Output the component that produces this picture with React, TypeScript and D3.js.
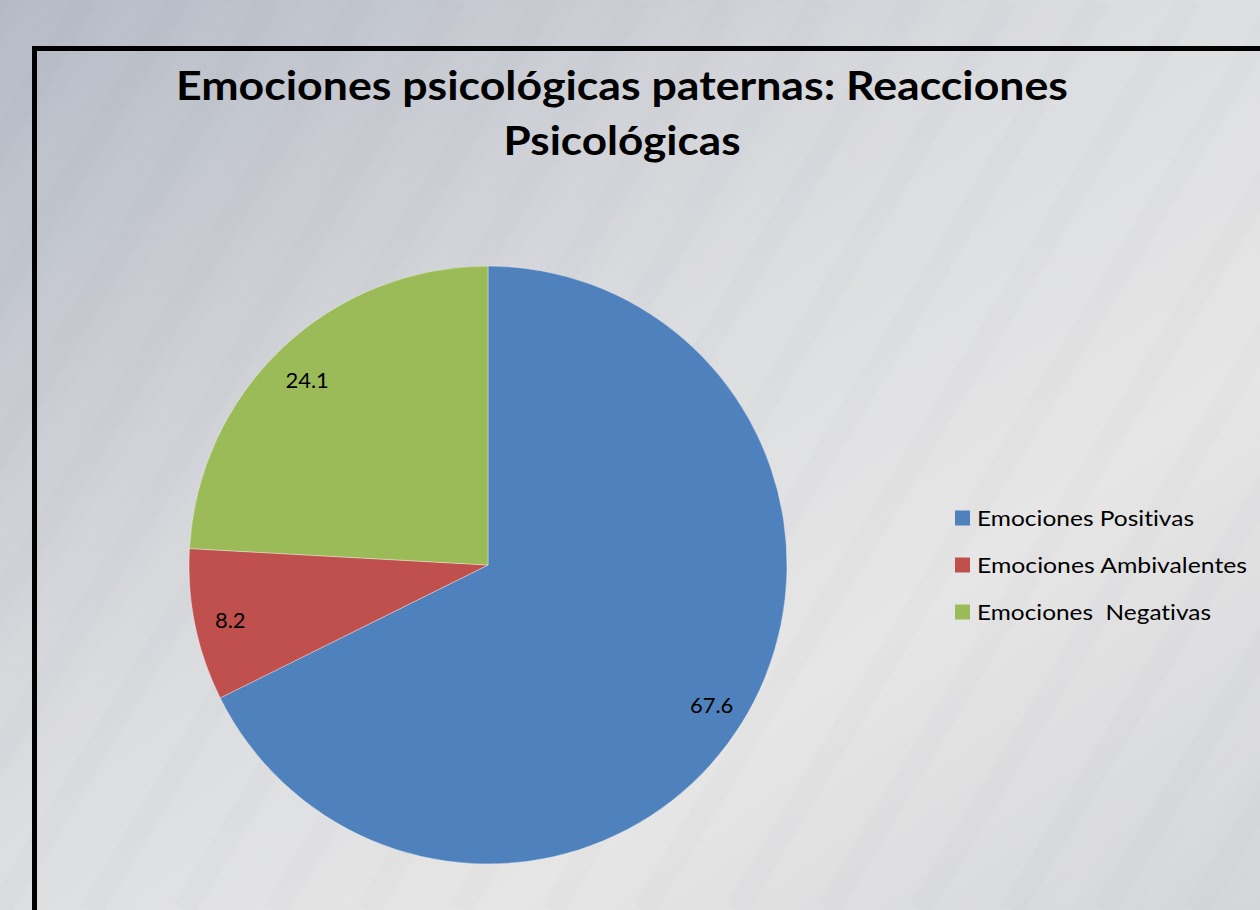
import React from "react";
import * as d3 from "d3";

const categories = ["Emociones Positivas", "Emociones Ambivalentes", "Emociones  Negativas"];
const values = [67.6, 8.2, 24.1];
const colors = ["#4f81bd", "#c0504d", "#9bbb59"];
const titleLines = ["Emociones psicológicas paternas: Reacciones", "Psicológicas"];
const legendWidths = [217, 270, 234];

const W = 1260;
const H = 910;
const FONT = "Lato, 'Open Sans', sans-serif";

export default function App() {
  const cx = 488;
  const cy = 565;
  const r = 299;
  const pie = d3.pie<number>().sort(null).value((d) => d)(values);
  const arc = d3.arc<d3.PieArcDatum<number>>().innerRadius(0).outerRadius(r);
  const labelArc = d3.arc<d3.PieArcDatum<number>>().innerRadius(r * 0.88).outerRadius(r * 0.88);
  const stripes = d3.range(-40, 60).map((i) => i * 46);

  return (
    <svg
      width={W}
      height={H}
      style={{ position: "fixed", left: 0, top: 0, display: "block", fontVariantLigatures: "none" }}
      fontFamily={FONT}
    >
      <defs>
        <linearGradient id="bg" x1="0" y1="0" x2="1" y2="1" gradientUnits="objectBoundingBox">
          <stop offset="0" stopColor="#b5bac5" />
          <stop offset="0.45" stopColor="#dcdde0" />
          <stop offset="0.7" stopColor="#e6e6e6" />
          <stop offset="1" stopColor="#d4d5d8" />
        </linearGradient>
      </defs>
      <rect x={0} y={0} width={W} height={H} fill="url(#bg)" />
      <g opacity={0.025}>
        {stripes.map((s, i) => (
          <line
            key={i}
            x1={s}
            y1={H}
            x2={s + H * 0.6}
            y2={0}
            stroke={i % 2 ? "#ffffff" : "#8a909a"}
            strokeWidth={23}
          />
        ))}
      </g>
      <rect x={34.5} y={48.5} width={W + 40} height={H + 40} fill="none" stroke="#000" strokeWidth={5} />
      {titleLines.map((t, i) => (
        <text
          key={i}
          x={622}
          y={100 + i * 55}
          textAnchor="middle"
          fontWeight="bold"
          fontSize={40}
          fill="#000"
          textLength={i === 0 ? 892 : 237}
          lengthAdjust="spacingAndGlyphs"
        >
          {t}
        </text>
      ))}
      <g transform={`translate(${cx},${cy})`}>
        {pie.map((d, i) => (
          <path key={i} d={arc(d) || ""} fill={colors[i]} stroke="#ffffff" strokeOpacity={0.5} strokeWidth={0.7} />
        ))}
        {pie.map((d, i) => {
          const [lx, ly] = labelArc.centroid(d);
          return (
            <text key={i} x={lx} y={ly + (i === 2 ? 6 : 2)} dy="0.35em" textAnchor="middle" fontSize={22} fill="#000">
              {d3.format(".1f")(d.data)}
            </text>
          );
        })}
      </g>
      {categories.map((c, i) => (
        <g key={i} transform={`translate(955,${518 + i * 47})`}>
          <rect x={0} y={-7.5} width={15} height={15} fill={colors[i]} />
          <text
            x={22}
            y={0}
            dy="0.36em"
            fontSize={22}
            fill="#000"
            style={{ whiteSpace: "pre" }}
            textLength={legendWidths[i]}
            lengthAdjust="spacingAndGlyphs"
          >
            {c}
          </text>
        </g>
      ))}
    </svg>
  );
}
